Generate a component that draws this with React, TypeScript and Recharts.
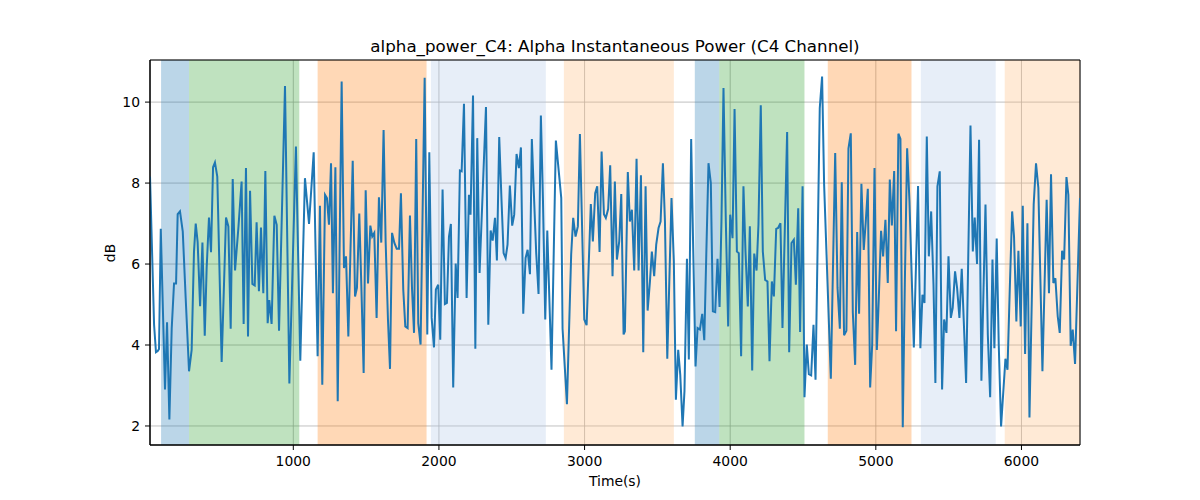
import React from "react"
import { LineChart, Line, XAxis, YAxis, CartesianGrid, ReferenceArea } from "recharts"

// time (s) of each vertex
const times = [
  16, 44, 57, 69, 78, 90, 119, 133, 149, 165,
  181, 195, 206, 222, 241, 261, 284, 302, 318, 330,
  343, 360, 376, 392, 405, 421, 435, 449, 462, 478,
  508, 538, 554, 570, 584, 600, 623, 645, 659, 675,
  689, 703, 719, 735, 748, 764, 778, 794, 808, 824,
  835, 851, 870, 886, 902, 943, 973, 1018, 1048, 1080,
  1108, 1140, 1167, 1183, 1199, 1218, 1231, 1245, 1259, 1272,
  1289, 1305, 1332, 1348, 1362, 1378, 1408, 1424, 1437, 1453,
  1467, 1483, 1497, 1513, 1529, 1542, 1556, 1572, 1588, 1604,
  1620, 1634, 1650, 1664, 1678, 1694, 1710, 1726, 1739, 1755,
  1769, 1785, 1801, 1815, 1829, 1844, 1858, 1874, 1902, 1920,
  1934, 1950, 1966, 1979, 1995, 2009, 2025, 2041, 2055, 2069,
  2082, 2098, 2115, 2128, 2144, 2156, 2172,
  2190, 2206, 2217, 2234, 2250, 2263, 2279, 2323, 2339, 2355,
  2369, 2385, 2398, 2414, 2430, 2444, 2458, 2471, 2487, 2503,
  2517, 2533, 2549, 2563, 2579, 2595, 2609, 2625, 2638, 2654,
  2668, 2684, 2700, 2714, 2730, 2744, 2773, 2803, 2840, 2849,
  2879, 2908, 2922, 2938, 2954, 2968, 2998, 3014, 3043, 3057,
  3073, 3087, 3103, 3117, 3133, 3146, 3162, 3176, 3192, 3208,
  3222, 3238, 3252, 3268,
  3277, 3297, 3311, 3325, 3341, 3357, 3371, 3387, 3403, 3419,
  3433, 3449, 3462, 3478, 3492, 3508, 3522, 3538, 3552, 3568,
  3597, 3613, 3627, 3643, 3657, 3673, 3686, 3703, 3716, 3732,
  3746, 3762, 3776, 3792, 3808, 3822, 3838, 3851, 3867, 3881,
  3897, 3913, 3927, 3940, 3954, 3970, 3986, 4000, 4016, 4030,
  4046, 4059, 4075, 4091, 4105, 4121, 4135, 4151, 4165, 4181,
  4194, 4210, 4224, 4240, 4256, 4270, 4286, 4300, 4316, 4329,
  4345, 4359, 4391,
  4405, 4421, 4437, 4451, 4467, 4480, 4497, 4510, 4526, 4540,
  4556, 4572, 4586, 4615, 4631, 4645, 4691, 4721, 4737, 4753,
  4766, 4782, 4798, 4812, 4828, 4842, 4858, 4872, 4885, 4901,
  4917, 4931, 4945, 4961, 4975, 4991, 5007, 5020, 5036, 5050,
  5066, 5082, 5096, 5110, 5126, 5139, 5155, 5169, 5185, 5199,
  5215, 5231, 5261, 5290, 5306, 5320, 5334, 5350, 5364, 5380,
  5396,
  5409, 5423, 5439, 5455, 5469, 5485, 5499, 5515, 5528, 5544,
  5558, 5574, 5590, 5604, 5620, 5650, 5666, 5679, 5695, 5709,
  5725, 5753, 5769, 5785, 5801, 5814, 5830, 5844, 5860, 5890,
  5904, 5920, 5936, 5949, 5965, 5979, 5995, 6009, 6025, 6041,
  6055, 6084, 6100, 6116, 6144, 6173, 6189, 6203, 6219, 6233,
  6249, 6263, 6279, 6293, 6309, 6322, 6338, 6352, 6368, 6402,
]

// alpha power in dB, same order as times
const alphaPower = [
  8.16, 4.5, 3.82, 3.85, 3.9, 6.87, 2.9, 4.56, 2.16, 4.4,
  5.52, 5.52, 7.23, 7.3, 6.8, 5.16, 3.35, 3.88, 6.3, 7.0,
  6.55, 4.96, 6.53, 4.23, 5.9, 7.15, 6.29, 8.39, 8.51, 8.16,
  3.58, 7.15, 6.93, 4.4, 8.1, 5.84, 6.9, 8.04, 4.52, 8.37,
  4.21, 7.81, 5.51, 5.47, 7.03, 5.33, 6.9, 5.28, 8.3, 4.54,
  5.11, 4.52, 7.19, 6.97, 4.35, 10.4, 3.05, 8.9, 3.61, 8.12,
  6.99, 8.76, 3.72, 7.44, 3.02, 7.71, 7.63, 6.97, 8.49, 5.28,
  8.39, 2.61, 10.51, 5.9, 6.19, 4.21, 8.55, 5.2, 5.41, 7.25,
  5.49, 3.31, 7.82, 5.52, 6.95, 6.68, 6.77, 4.67, 7.65, 6.53,
  9.31, 6.56, 4.63, 3.41, 6.77, 6.52, 6.38, 6.38, 7.75, 5.37,
  4.46, 4.42, 7.2, 5.41, 4.3, 9.09, 4.54, 4.01, 10.6, 4.26,
  8.76, 4.67, 3.94, 5.37, 5.49, 4.13, 7.84, 5.01, 5.04, 6.68,
  6.99, 2.95, 6.01, 5.16, 8.31, 8.29, 9.96,
  5.16, 7.71, 7.22, 10.16, 3.91, 9.11, 5.78, 9.88, 4.5, 6.83,
  6.58, 7.14, 6.09, 9.14, 7.55, 6.27, 6.15, 6.48, 7.94, 6.95,
  7.22, 8.72, 8.37, 8.88, 4.77, 6.15, 6.35, 5.75, 9.09, 7.55,
  6.27, 5.26, 9.67, 7.63, 4.63, 6.83, 3.39, 9.05, 7.63, 4.4,
  2.54, 6.23, 7.14, 6.68, 6.93, 9.21, 4.63, 4.49, 7.48, 6.56,
  7.75, 7.92, 6.3, 8.78, 7.23, 7.14, 7.36, 8.44, 5.7, 8.04,
  6.11, 6.56, 7.73, 4.26,
  4.34, 8.27, 7.05, 7.34, 5.84, 8.6, 5.84, 8.19, 3.82, 7.92,
  4.85, 5.57, 6.31, 5.7, 6.48, 6.89, 7.05, 8.49, 7.05, 3.66,
  7.63, 6.07, 2.65, 3.88, 3.27, 1.99, 2.86, 6.13, 3.64, 9.09,
  6.38, 3.47, 4.42, 4.38, 4.77, 4.12, 6.56, 8.49, 8.0, 4.83,
  4.81, 6.13, 4.94, 7.05, 10.35, 7.05, 4.46, 7.22, 6.64, 9.83,
  6.31, 6.27, 3.72, 7.92, 6.31, 4.95, 6.93, 3.37, 6.26, 5.84,
  6.97, 9.92, 6.31, 5.61, 5.57, 3.6, 5.57, 5.2, 6.87, 6.89,
  7.01, 4.42, 9.26,
  3.82, 6.52, 6.6, 5.49, 7.38, 4.32, 7.92, 2.71, 4.01, 3.28,
  3.25, 4.5, 3.14, 9.85, 10.63, 7.96, 3.17, 8.74, 5.41, 4.4,
  8.02, 4.24, 4.35, 8.85, 9.23, 4.81, 3.51, 6.79, 4.77, 7.98,
  6.35, 7.05, 7.86, 2.95, 4.01, 8.37, 3.88, 5.11, 6.82, 6.19,
  7.09, 5.53, 8.09, 6.95, 8.3, 4.34, 9.22, 9.09, 1.97, 5.49,
  8.86, 7.55, 3.94, 7.93, 3.92, 5.24, 5.04, 9.15, 6.19, 7.3,
  5.49,
  3.06, 7.92, 8.29, 2.9, 4.63, 4.3, 6.19, 4.67, 4.92, 5.82,
  5.41, 4.67, 5.88, 4.58, 3.06, 9.42, 6.31, 7.15, 6.0, 9.07,
  3.12, 7.47, 4.26, 2.71, 6.11, 3.92, 6.63, 4.01, 1.99, 3.66,
  3.39, 5.41, 7.3, 6.68, 4.58, 6.33, 4.46, 7.44, 3.78, 7.01,
  2.21, 7.47, 8.49, 7.88, 3.35, 7.59, 5.28, 8.22, 5.53, 5.65,
  4.71, 4.3, 6.33, 6.11, 8.15, 7.71, 3.98, 4.38, 3.53, 7.63,
]

// shaded stage bands
const spanStarts = [92, 284, 1167, 1945, 2858, 3757, 3925, 4670, 5309, 5885]
const spanEnds = [284, 1041, 1915, 2734, 3613, 3925, 4510, 5245, 5823, 6402]
const spanColors = ["#1f77b4", "#2ca02c", "#ff7f0e", "#aec7e8", "#ffbb78", "#1f77b4", "#2ca02c", "#ff7f0e", "#aec7e8", "#ffbb78"]

const xTicks = [1000, 2000, 3000, 4000, 5000, 6000]
const yTicks = [2, 4, 6, 8, 10]
const xDomain = [16, 6402]
const yDomain = [1.53, 11.04]

const font = "DejaVu Sans"

export default function App() {
  const data = times.map((t, i) => ({ t, v: alphaPower[i] }))
  const tickStyle = { fill: "#000", fontSize: 13.9, fontFamily: font }

  return (
    <div style={{ position: "absolute", left: 0, top: 0, width: 1200, height: 500, background: "#fff", fontFamily: font }}>
      <div style={{ position: "absolute", left: 150, width: 930, top: 36, textAlign: "center", fontSize: 16.7, color: "#000", whiteSpace: "nowrap" }}>
        alpha_power_C4: Alpha Instantaneous Power (C4 Channel)
      </div>
      <LineChart width={1200} height={500} data={data} margin={{ top: 60, right: 120, bottom: 25, left: 90 }}>
        {spanStarts.map((s, i) => (
          <ReferenceArea key={`span-${i}`} x1={s} x2={spanEnds[i]} fill={spanColors[i]} fillOpacity={0.3} stroke="none" ifOverflow="hidden" />
        ))}
        <CartesianGrid stroke="#b0b0b0" strokeWidth={0.8} />
        <XAxis
          dataKey="t"
          type="number"
          domain={xDomain}
          ticks={xTicks}
          allowDataOverflow
          height={30}
          tick={tickStyle}
          tickSize={5}
          tickMargin={6.5}
          axisLine={{ stroke: "#000", strokeWidth: 1 }}
          tickLine={{ stroke: "#000" }}
        />
        <YAxis
          type="number"
          domain={yDomain}
          ticks={yTicks}
          allowDataOverflow
          width={60}
          tick={tickStyle}
          tickSize={5}
          tickMargin={5}
          axisLine={{ stroke: "#000", strokeWidth: 1 }}
          tickLine={{ stroke: "#000" }}
        />
        <Line type="linear" dataKey="v" stroke="#1f77b4" strokeWidth={2} dot={false} isAnimationActive={false} />
        {/* axes frame (top and right spines) */}
        <ReferenceArea x1={xDomain[0]} x2={xDomain[1]} y1={yDomain[0]} y2={yDomain[1]} fill="none" fillOpacity={0} stroke="#000" strokeWidth={1} ifOverflow="visible" />
      </LineChart>
      <div style={{ position: "absolute", left: 615, top: 481, transform: "translate(-50%, -50%)", fontSize: 13.9, whiteSpace: "nowrap" }}>
        Time(s)
      </div>
      <div style={{ position: "absolute", left: 110, top: 253, transform: "translate(-50%, -50%) rotate(-90deg)", fontSize: 13.9, whiteSpace: "nowrap" }}>
        dB
      </div>
    </div>
  )
}
